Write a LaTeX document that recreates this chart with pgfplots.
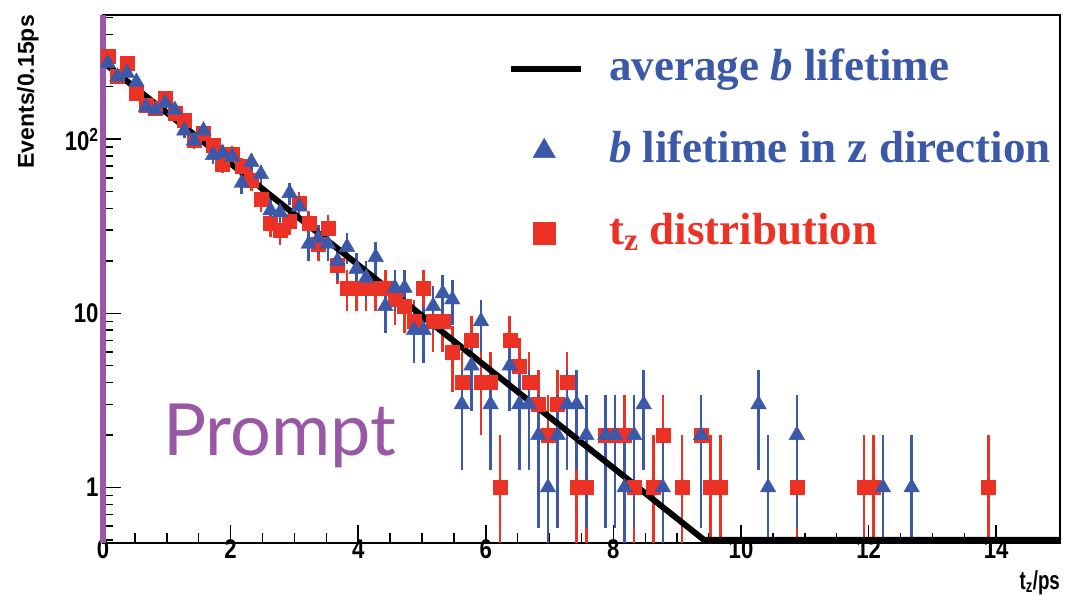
\documentclass[border=0pt]{standalone}
\usepackage{fontspec}
\setmainfont{Liberation Serif}
\newfontfamily\helv{Liberation Sans}
\newfontfamily\gill{Lato}
\usepackage{graphicx}
\usepackage{pgfplots}
\pgfplotsset{compat=1.18}
\usepackage{pgfplotstable}
\definecolor{lblue}{RGB}{59,89,168}
\definecolor{lred}{RGB}{236,50,36}
\definecolor{lpurple}{RGB}{152,88,166}

\pgfplotstableread{
x y
0.075 300
0.225 230
0.375 273
0.525 184
0.675 157
0.825 150
0.975 172
1.125 140
1.275 129
1.425 99
1.575 108
1.725 92
1.875 72
2.025 82
2.175 70
2.325 58
2.475 45
2.625 33
2.775 30
2.925 34
3.075 43
3.225 33
3.375 25
3.525 31
3.675 19
3.825 14
3.975 14
4.125 14
4.275 14
4.425 14
4.575 12
4.725 11
4.875 9
5.025 14
5.175 9
5.325 9
5.475 6
5.625 4
5.775 7
5.925 4
6.075 4
6.225 1
6.375 7
6.525 5
6.675 4
6.825 3
6.975 2
7.125 3
7.275 4
7.425 1
7.575 1
7.875 2
8.025 2
8.175 2
8.325 1
8.625 1
8.775 2
9.075 1
9.375 2
9.525 1
9.675 1
10.875 1
11.925 1
12.075 1
13.875 1
}\reddata

\pgfplotstableread{
x y
0.075 273
0.225 228
0.375 240
0.525 213
0.675 153
0.825 147
0.975 161
1.125 147
1.275 112
1.425 98
1.575 112
1.725 81
1.875 83
2.025 79
2.175 56
2.325 74
2.475 63
2.625 39
2.775 38
2.925 49
3.075 41
3.225 25
3.375 27
3.525 25
3.675 20
3.825 24
3.975 18
4.125 16
4.275 21
4.425 11
4.575 14
4.725 14
4.875 8
5.025 8
5.175 11
5.325 13
5.475 12
5.625 3
5.775 5
5.925 9
6.075 3
6.375 5
6.525 3
6.675 3
6.825 2
6.975 1
7.125 2
7.275 3
7.425 3
7.575 2
7.875 2
8.025 2
8.175 1
8.325 2
8.475 3
8.775 1
9.375 2
10.275 3
10.425 1
10.875 2
12.225 1
12.675 1
}\bluedata

\begin{document}
\begin{tikzpicture}
\begin{axis}[
  at={(0pt,0pt)}, anchor=south west,
  scale only axis, width=957pt, height=528pt,
  xmin=0, xmax=15,
  ymode=log, ymin=0.48, ymax=516,
  clip=false,
  axis line style={line width=1.5pt},
  xtick={0,2,4,6,8,10,12,14}, minor x tick num=3,
  ytick={1,10,100},
  yticklabels={1,10,{10\textsuperscript{2}}},
  minor ytick={0.5,0.6,0.7,0.8,0.9,2,3,4,5,6,7,8,9,20,30,40,50,60,70,80,90,200,300,400,500},
  xtick pos=bottom, ytick pos=left, tick align=inside,
  major tick length=18pt, minor tick length=10pt,
  tick style={line width=1.5pt, black},
  /pgf/number format/assume math mode=true,
  tick label style={font=\helv\bfseries\fontsize{27}{27}\selectfont, xscale=0.82},
  xticklabel style={yshift=7pt},
  yticklabel style={xshift=-2pt},
  every axis x label/.style={at={(axis description cs:1,0)}, anchor=north east, yshift=-27pt, inner sep=0pt, font=\helv\bfseries\fontsize{26}{26}\selectfont, xscale=0.72},
  every axis y label/.style={at={(axis description cs:-0.0784,1)}, anchor=east, rotate=90, inner sep=0pt, font=\helv\bfseries\fontsize{23}{23}\selectfont},
  xlabel={t\textsubscript{z}/ps},
  ylabel={Events/0.15ps},
  reverse legend,
  legend cell align=left,
  legend style={at={(axis description cs:0.4232,0.9375)}, anchor=north west, draw=none, fill=none, inner sep=0pt,
    font=\bfseries\fontsize{45}{50}\selectfont, row sep=40pt,
    nodes={inner sep=0pt, text height=32pt, text depth=10pt},
    /tikz/every odd column/.append style={column sep=25pt}},
]
\addplot[only marks, mark=square*, mark size=7pt, color=lred, mark options={draw=lred, fill=lred},
  legend image code/.code={\path[draw=none, fill=none] (0pt,-1pt) rectangle (70pt,1pt); \draw[only marks, mark=square*, mark size=11pt, mark options={draw=lred, fill=lred}] plot coordinates {(33pt,0pt)};},
  error bars/.cd, y dir=both, y explicit, error mark=none, error bar style={line width=2.6pt, lred}]
  table[x=x, y=y, y error plus expr={sqrt(\thisrow{y})}, y error minus expr={min(sqrt(\thisrow{y}),\thisrow{y}-0.48)}] {\reddata};
\addlegendentry{\textcolor{lred}{t\textsubscript{z} distribution}}
\addplot[only marks, mark=triangle*, mark size=9pt, color=lblue, mark options={draw=lblue, fill=lblue},
  legend image code/.code={\path[draw=none, fill=none] (0pt,-1pt) rectangle (70pt,1pt); \draw[only marks, mark=triangle*, mark size=13pt, mark options={draw=lblue, fill=lblue}] plot coordinates {(33pt,0pt)};},
  error bars/.cd, y dir=both, y explicit, error mark=none, error bar style={line width=2.6pt, lblue}]
  table[x=x, y=y, y error plus expr={sqrt(\thisrow{y})}, y error minus expr={min(sqrt(\thisrow{y}),\thisrow{y}-0.48)}] {\bluedata};
\addlegendentry{\textcolor{lblue}{\textit{b} lifetime in z direction}}
\addplot[black, line width=6pt, line join=round, no marks,
  legend image code/.code={\draw[black, line width=6pt] (0pt,0pt) -- (70pt,0pt);}]
  coordinates {(0,277) (9.42,0.5) (15,0.5)};
\addlegendentry{\textcolor{lblue}{average \textit{b} lifetime}}
\addplot[lpurple, line width=6pt, no marks, forget plot] coordinates {(0,0.48) (0,516)};
\node[anchor=base west, text=lpurple, font=\gill\fontsize{72}{72}\selectfont, inner sep=0pt] at (axis cs:0.94,1.53) {Prompt};
\end{axis}
\pgfresetboundingbox
\path[use as bounding box] (-103pt,-52pt) rectangle (963pt,543pt);
\end{tikzpicture}
\end{document}
